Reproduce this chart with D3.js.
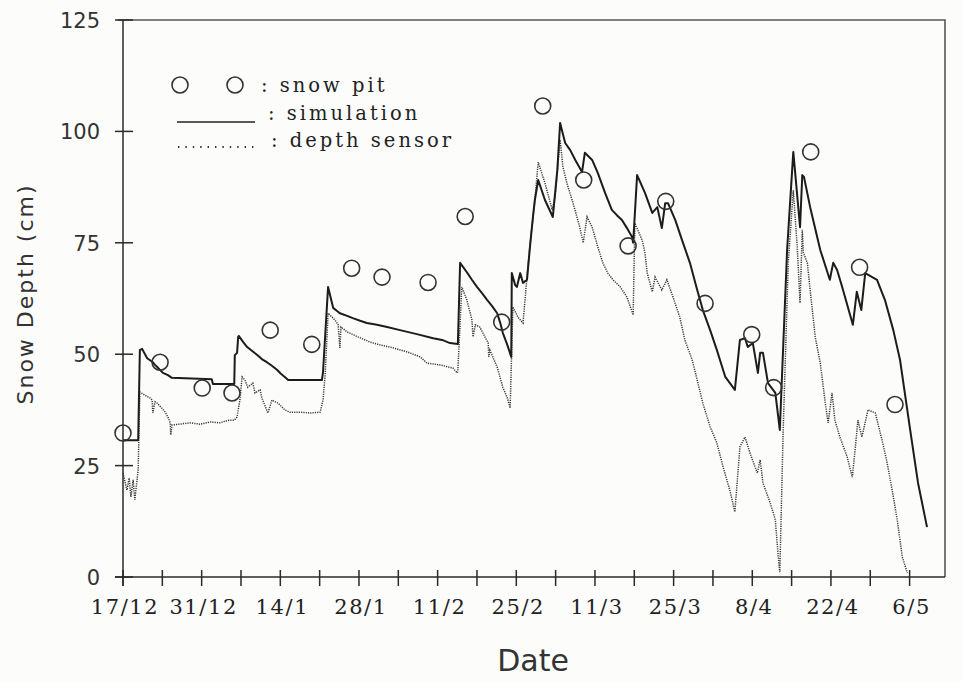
<!DOCTYPE html>
<html>
<head>
<meta charset="utf-8">
<script src="https://cdn.jsdelivr.net/npm/d3@7"></script>
<style>
  html, body { margin: 0; padding: 0; background: #fcfcfa; }
  svg { display: block; }
</style>
</head>
<body>
<svg id="chart" width="962" height="682"></svg>
<script>
// Days counted from 17 December; depths in cm.
const tickDays   = [0, 7, 14, 21, 28, 35, 42, 49, 56, 63, 70, 77, 84, 91, 98, 105, 112, 119, 126, 133, 140];
const labelDays  = [0, 14, 28, 42, 56, 70, 84, 98, 112, 126, 140];
const tickLabels = ["17/12", "31/12", "14/1", "28/1", "11/2", "25/2", "11/3", "25/3", "8/4", "22/4", "6/5"];
const depthTicks = [0, 25, 50, 75, 100, 125];

// snow pit observations
const pitDays  = [0.0, 6.6, 14.1, 19.4, 26.2, 33.6, 40.7, 46.1, 54.3, 60.9, 67.4, 74.7, 82.0, 89.9, 96.6, 103.6, 111.9, 115.8, 122.4, 131.1, 137.4];
const pitDepth = [32.3, 48.2, 42.4, 41.3, 55.4, 52.2, 69.3, 67.3, 66.1, 80.9, 57.2, 105.7, 89.1, 74.3, 84.3, 61.4, 54.4, 42.5, 95.4, 69.5, 38.7];

// simulated snow depth
const simDays = [0.0, 2.7, 3.0, 3.4, 4.3, 5.2, 5.7, 6.2, 7.1, 8.0, 8.7, 15.8, 16.0, 19.8, 19.9, 20.3, 20.5, 20.6,
  21.4, 22.1, 23.0, 23.9, 24.7, 25.6, 26.5, 27.4, 28.1, 28.8, 29.4, 35.4, 35.6, 36.5, 37.4, 38.1, 38.6, 39.9,
  40.9, 42.2, 43.4, 45.2, 47.0, 49.3, 52.3, 55.2, 56.8, 58.2, 59.6, 60.0, 61.2, 62.1, 63.0, 63.9, 64.8, 65.7,
  66.6, 67.1, 67.6, 68.4, 69.1, 69.2, 69.8, 70.1, 70.7, 71.2, 71.9, 72.5, 73.0, 73.3, 73.9, 75.1, 76.5, 77.3,
  77.8, 78.7, 79.6, 80.5, 81.7, 82.2, 83.5, 84.5, 85.8, 87.0, 87.9, 88.8, 89.7, 90.6, 90.8, 91.5, 92.9, 94.2,
  95.1, 95.9, 96.5, 97.0, 98.3, 99.5, 100.9, 102.2, 103.2, 104.5, 105.7, 107.2, 108.9, 109.8, 110.7, 111.2,
  112.1, 113.0, 113.4, 113.9, 114.8, 116.1, 116.9, 118.2, 119.3, 120.5, 120.9, 121.2, 122.3, 124.1, 125.8,
  126.4, 127.1, 128.0, 129.9, 130.6, 131.4, 132.1, 134.2, 135.6, 137.1, 138.3, 140.1, 141.5, 143.1];
const simDepth = [30.7, 30.7, 50.9, 51.2, 49.1, 48.3, 47.6, 47.0, 45.8, 45.3, 44.7, 44.4, 43.3, 43.3, 49.8, 50.3, 53.9, 54.1,
  52.7, 51.6, 50.7, 49.8, 48.9, 48.2, 47.4, 46.5, 45.6, 44.9, 44.2, 44.2, 46.0, 65.1, 60.4, 59.7, 59.2, 58.6,
  58.1, 57.5, 57.0, 56.6, 56.1, 55.4, 54.5, 53.6, 53.2, 52.5, 52.3, 70.5, 68.4, 66.7, 65.1, 63.7, 62.2, 60.8,
  59.2, 57.2, 54.8, 52.1, 49.4, 68.2, 65.5, 65.1, 68.2, 66.0, 66.7, 75.0, 81.2, 84.6, 89.1, 84.6, 80.8, 91.3,
  101.9, 97.4, 95.8, 93.6, 90.9, 95.2, 93.6, 90.7, 86.2, 82.4, 81.2, 80.1, 78.3, 76.3, 75.0, 90.2, 86.2, 81.7,
  83.0, 78.3, 83.9, 83.9, 80.1, 75.6, 70.5, 64.4, 59.9, 55.4, 50.9, 44.9, 42.0, 53.2, 53.6, 51.6,
  52.5, 45.8, 50.3, 50.3, 43.5, 41.3, 33.0, 73.4, 95.4, 78.5, 90.2, 89.8, 83.0, 73.4, 66.7,
  70.5, 68.9, 65.1, 56.6, 64.0, 59.9, 68.2, 66.7, 62.2, 55.4, 48.7, 33.0, 21.1, 11.2];

// depth sensor record
const sensorDays = [0.0, 0.7, 1.1, 1.4, 1.8, 2.1, 2.5, 2.7, 3.0, 3.9, 4.8, 5.2, 5.3, 5.7, 6.1, 6.9, 7.5, 8.0, 8.4, 8.5,
  8.7, 10.1, 11.9, 13.7, 15.5, 17.3, 18.2, 19.0, 19.8, 20.3, 20.8, 21.2, 21.7, 22.2, 23.1, 23.5, 24.4, 24.7,
  25.8, 26.5, 27.6, 28.8, 29.7, 31.5, 33.3, 35.1, 35.6, 36.0, 36.5, 37.7, 38.3, 38.6, 38.8, 39.9, 41.8, 44.0,
  45.7, 48.1, 50.6, 52.9, 54.1, 56.4, 58.7, 59.5, 59.6, 60.3, 61.2, 62.1, 62.3, 62.7, 63.5, 65.0, 65.1, 65.3,
  66.6, 67.6, 68.4, 68.9, 69.4, 70.3, 71.2, 71.9, 72.4, 73.3, 73.9, 75.1, 76.4, 76.9, 77.8, 78.3, 79.0, 80.1,
  81.3, 81.9, 82.6, 83.5, 84.5, 85.4, 86.3, 87.2, 88.5, 89.7, 90.8, 91.1, 92.4, 92.9, 93.3, 94.2, 94.7, 95.9,
  96.8, 97.9, 99.1, 100.0, 101.3, 102.2, 103.2, 104.5, 105.7, 106.8, 108.0, 108.9, 109.8, 110.7, 111.6, 112.9,
  113.4, 113.9, 115.2, 116.1, 116.6, 116.9, 117.5, 118.4, 119.3, 120.0, 120.5, 120.9, 121.1, 121.8, 122.3,
  123.2, 124.1, 125.0, 125.5, 126.2, 126.7, 127.6, 128.9, 129.8, 130.3, 130.8, 131.5, 132.6, 133.9, 135.1,
  136.0, 136.9, 137.8, 138.7, 139.6];
const sensorDepth = [23.3, 19.5, 22.2, 18.0, 21.8, 17.3, 21.8, 24.0, 41.5, 40.8, 40.2, 39.7, 36.8, 39.3, 39.0, 37.9, 37.0, 35.9, 34.6, 31.9,
  34.1, 34.3, 34.6, 34.3, 34.8, 34.6, 35.0, 35.2, 35.2, 35.9, 39.7, 44.9, 44.2, 42.6, 43.5, 41.3, 42.0, 40.2,
  36.8, 39.7, 39.0, 37.5, 37.0, 37.0, 36.8, 37.0, 39.7, 45.8, 59.2, 57.7, 56.6, 51.4, 56.1, 55.0, 53.9, 52.7,
  52.1, 51.4, 50.5, 49.4, 48.0, 47.6, 46.9, 45.8, 46.5, 65.1, 62.2, 57.7, 53.9, 56.6, 56.1, 52.5, 49.4, 50.9,
  47.1, 42.6, 40.2, 37.9, 60.6, 58.3, 57.0, 67.3, 74.1, 84.6, 93.1, 88.4, 82.4, 85.3, 98.1, 92.0, 88.4, 83.9,
  78.5, 75.0, 80.8, 78.5, 74.1, 70.5, 68.2, 66.7, 65.1, 62.8, 58.8, 79.4, 75.6, 72.7, 68.2, 64.0, 67.3, 64.4,
  66.7, 62.8, 58.3, 53.2, 48.7, 44.2, 39.0, 33.7, 30.1, 24.7, 19.5, 14.6, 29.2, 31.4, 27.8, 23.3,
  26.3, 21.1, 16.6, 12.8, 4.9, 1.1, 33.0, 70.5, 86.8, 74.1, 61.5, 77.9, 72.7, 70.5, 64.4,
  53.9, 48.0, 39.0, 34.6, 41.3, 35.2, 31.4, 26.9, 22.4, 28.5, 35.2, 31.4, 37.5, 36.8, 30.7,
  25.6, 19.5, 12.8, 4.5, 0.9];

const svg = d3.select("#chart");
const margin = { left: 123, right: 17, top: 20, bottom: 105 };
const W = +svg.attr("width"), H = +svg.attr("height");
const x0 = margin.left, x1 = W - margin.right, y0 = H - margin.bottom, y1 = margin.top;

const x = d3.scaleLinear().domain([0, 146.3]).range([x0, x1]);
const y = d3.scaleLinear().domain([0, 125]).range([y0, y1]);

const ink = "#2a2a2a";
const serif = "'DejaVu Serif', serif";
const sans = "'DejaVu Sans', sans-serif";

// frame: top and right edges
svg.append("path")
  .attr("d", `M${x0 - 5},${y1}H${x1}V${y0}`)
  .attr("fill", "none").attr("stroke", "#555").attr("stroke-width", 1.6);

// x axis: line with ticks crossing it
const gx = svg.append("g");
gx.append("line")
  .attr("x1", x0 - 8).attr("x2", x1).attr("y1", y0).attr("y2", y0)
  .attr("stroke", ink).attr("stroke-width", 1.5);
gx.selectAll("line.tick").data(tickDays).join("line")
  .attr("class", "tick")
  .attr("x1", d => x(d)).attr("x2", d => x(d))
  .attr("y1", y0 - 7).attr("y2", y0 + 9)
  .attr("stroke", ink).attr("stroke-width", 1.5);
gx.selectAll("text").data(labelDays).join("text")
  .attr("x", (d, i) => x(d) + 2)
  .attr("y", y0 + 37)
  .attr("text-anchor", "middle")
  .attr("font-family", serif).attr("font-size", 21)
  .attr("letter-spacing", 1.6)
  .attr("fill", "#222")
  .text((d, i) => tickLabels[i]);

// y axis
const gy = svg.append("g");
gy.append("line")
  .attr("x1", x0).attr("x2", x0).attr("y1", y1).attr("y2", y0 + 9)
  .attr("stroke", ink).attr("stroke-width", 1.5);
gy.selectAll("line.tick").data(depthTicks).join("line")
  .attr("class", "tick")
  .attr("x1", x0 - 8).attr("x2", x0 + 10)
  .attr("y1", d => y(d)).attr("y2", d => y(d))
  .attr("stroke", ink).attr("stroke-width", 1.5);
gy.selectAll("text").data(depthTicks).join("text")
  .attr("x", x0 - 23)
  .attr("y", d => y(d) + 8)
  .attr("text-anchor", "end")
  .attr("font-family", sans).attr("font-size", 21)
  .attr("fill", "#333")
  .text(d => d);

// axis titles
svg.append("text")
  .attr("transform", `translate(33,294) rotate(-90)`)
  .attr("text-anchor", "middle")
  .attr("font-family", sans).attr("font-size", 22)
  .attr("letter-spacing", 2)
  .attr("fill", "#333")
  .text("Snow Depth (cm)");
svg.append("text")
  .attr("x", 533).attr("y", 671)
  .attr("text-anchor", "middle")
  .attr("font-family", sans).attr("font-size", 30)
  .attr("fill", "#333")
  .text("Date");

// series
const line = d3.line().x(d => x(d[0])).y(d => y(d[1]));
const sensor = sensorDays.map((d, i) => [d, sensorDepth[i]]);
const sim = simDays.map((d, i) => [d, simDepth[i]]);

svg.append("path")
  .datum(sensor)
  .attr("d", line)
  .attr("fill", "none")
  .attr("stroke", "#3a3a3a")
  .attr("stroke-width", 1.5)
  .attr("stroke-dasharray", "1.2,1.1");

svg.append("path")
  .datum(sim)
  .attr("d", line)
  .attr("fill", "none")
  .attr("stroke", "#1c1c1c")
  .attr("stroke-width", 2)
  .attr("stroke-linejoin", "round");

svg.append("g").selectAll("circle")
  .data(pitDays.map((d, i) => [d, pitDepth[i]]))
  .join("circle")
  .attr("cx", d => x(d[0])).attr("cy", d => y(d[1]))
  .attr("r", 8)
  .attr("fill", "none")
  .attr("stroke", "#333")
  .attr("stroke-width", 1.6);

// legend
const lg = svg.append("g")
  .attr("font-family", serif).attr("font-size", 19.5)
  .attr("letter-spacing", 3).attr("fill", "#222");
[180, 235].forEach(cx => lg.append("circle")
  .attr("cx", cx).attr("cy", 85).attr("r", 8)
  .attr("fill", "none").attr("stroke", "#333").attr("stroke-width", 1.6));
lg.append("text").attr("x", 261).attr("y", 92).text(": snow pit");
lg.append("line")
  .attr("x1", 177).attr("x2", 255).attr("y1", 122).attr("y2", 122)
  .attr("stroke", "#222").attr("stroke-width", 1.5);
lg.append("text").attr("x", 268).attr("y", 120).text(": simulation");
lg.append("line")
  .attr("x1", 178).attr("x2", 257).attr("y1", 147).attr("y2", 147)
  .attr("stroke", "#333").attr("stroke-width", 1.8)
  .attr("stroke-dasharray", "1.4,6");
lg.append("text").attr("x", 271).attr("y", 147).text(": depth sensor");
</script>
</body>
</html>
